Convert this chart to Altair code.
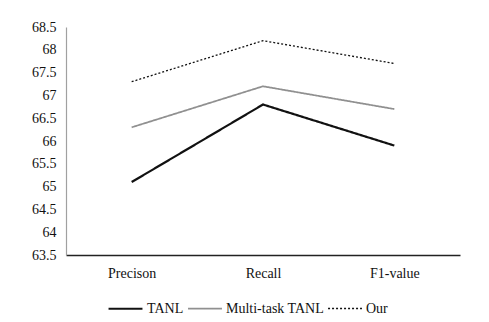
import altair as alt
import pandas as pd

categories = ["Precison", "Recall", "F1-value"]
series = ["TANL", "Multi-task TANL", "Our"]
tanl = [65.1, 66.8, 65.9]
multi = [66.3, 67.2, 66.7]
our = [67.3, 68.2, 67.7]
y_ticks = [63.5, 64, 64.5, 65, 65.5, 66, 66.5, 67, 67.5, 68, 68.5]

rows = []
for s, vals in zip(series, [tanl, multi, our]):
    for c, v in zip(categories, vals):
        rows.append({"metric": c, "model": s, "value": v})
df = pd.DataFrame(rows)

font = "Times New Roman"

chart = alt.Chart(df).mark_line().encode(
    x=alt.X("metric:N", sort=categories, title=None,
            scale=alt.Scale(padding=0.5),
            axis=alt.Axis(labelAngle=0, ticks=False, domainColor="#222222",
                          domainWidth=1.5, labelPadding=11, labelFontSize=14,
                          labelFont=font, labelColor="#111111")),
    y=alt.Y("value:Q", title=None,
            scale=alt.Scale(domain=[63.5, 68.5], nice=False, zero=False),
            axis=alt.Axis(values=y_ticks, format=".1~f", grid=False, ticks=False,
                          domainColor="#a0a0a0", domainWidth=1.2, labelPadding=10,
                          labelFontSize=14, labelFont=font, labelColor="#111111")),
    color=alt.Color("model:N", sort=series, title=None,
                    scale=alt.Scale(domain=series, range=["#111111", "#909090", "#111111"]),
                    legend=alt.Legend(orient="none", direction="horizontal",
                                      legendX=41, legendY=263,
                                      symbolType="stroke", symbolSize=1150,
                                      labelFont=font, labelFontSize=14,
                                      labelColor="#111111", columnPadding=0,
                                      labelOffset=3)),
    strokeDash=alt.StrokeDash("model:N", sort=series,
                              scale=alt.Scale(domain=series, range=[[1, 0], [1, 0], [2, 2]]),
                              legend=None),
    strokeWidth=alt.StrokeWidth("model:N", sort=series,
                                scale=alt.Scale(domain=series, range=[2.2, 1.3, 1.6]),
                                legend=None),
).properties(
    width=394, height=228,
    autosize=alt.AutoSizeParams(type="none"),
    padding={"left": 58, "top": 19, "right": 21, "bottom": 67},
).configure(font=font).configure_view(stroke=None)

chart.save("out.html", embed_options={"renderer": "svg", "actions": False})
